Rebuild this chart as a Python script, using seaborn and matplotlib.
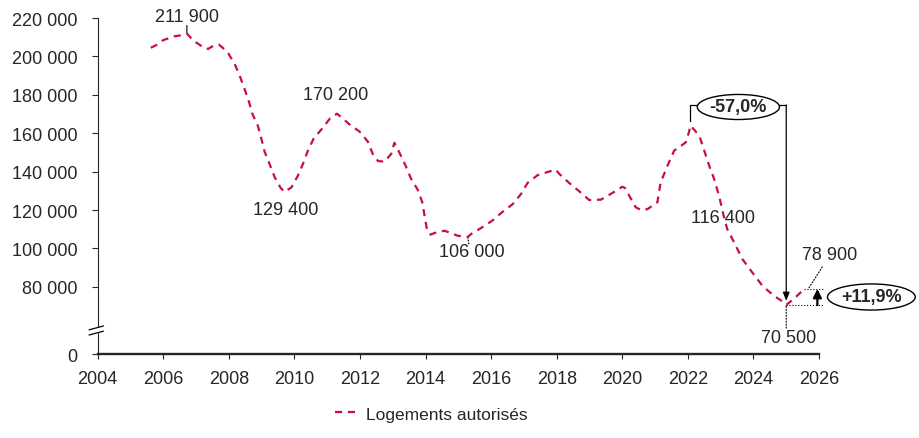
import numpy as np
import pandas as pd
import matplotlib
matplotlib.use("Agg")
import matplotlib.pyplot as plt
import matplotlib.transforms as mtransforms
import seaborn as sns

# 12-month cumulated authorised dwellings
years = [2005.62, 2005.80, 2006.00, 2006.35, 2006.55, 2006.72, 2006.85, 2007.00,
         2007.20, 2007.37, 2007.55, 2007.70, 2007.95, 2008.18, 2008.33, 2008.48,
         2008.61, 2008.72, 2008.89, 2008.99, 2009.09, 2009.25, 2009.40, 2009.58,
         2009.70, 2009.91, 2010.11, 2010.26, 2010.41, 2010.59, 2010.85, 2011.09,
         2011.30, 2011.45, 2011.68, 2011.99, 2012.24, 2012.39, 2012.55, 2012.75,
         2012.95, 2013.05, 2013.20, 2013.39, 2013.56, 2013.76, 2013.90, 2013.97,
         2014.04, 2014.15, 2014.35, 2014.58, 2014.80, 2014.98, 2015.29, 2015.39,
         2015.69, 2016.03, 2016.33, 2016.66, 2016.91, 2017.11, 2017.42, 2017.80,
         2017.97, 2018.08, 2018.38, 2018.69, 2018.99, 2019.35, 2019.68, 2020.00,
         2020.08, 2020.21, 2020.41, 2020.60, 2020.77, 2021.07, 2021.17, 2021.38,
         2021.58, 2021.80, 2021.94, 2022.04, 2022.08, 2022.35, 2022.50, 2022.65,
         2022.80, 2022.95, 2023.10, 2023.20, 2023.41, 2023.66, 2023.96, 2024.27,
         2024.62, 2024.92, 2025.00, 2025.28, 2025.55]
values = [204500, 206000, 208500, 210500, 211000, 211900, 209500, 207300,
          205000, 203900, 205800, 206100, 202500, 196000, 190000, 183000,
          176600, 170000, 163600, 157300, 150400, 143600, 137000, 131500,
          129400, 131800, 138000, 144000, 150900, 157300, 162500, 167800,
          170200, 168000, 164600, 160800, 155600, 149200, 145500, 145200,
          149200, 155000, 150000, 143100, 136200, 130600, 124000, 117000,
          110100, 107200, 108500, 109200, 107800, 106600, 106000, 107500,
          110600, 114400, 118800, 123100, 128300, 134100, 138200, 140200,
          141000, 138800, 134100, 129700, 125200, 125400, 128700, 132100,
          131500, 127500, 121400, 119800, 120500, 124000, 134400, 143100,
          150900, 153500, 155300, 161000, 164000, 158700, 150900, 143100,
          136200, 127500, 116400, 110100, 103200, 94500, 87600, 80600,
          75400, 72000, 70500, 74500, 78900]
series_name = "Logements autorisés"

ytick_values = [80000, 100000, 120000, 140000, 160000, 180000, 200000, 220000]
xtick_values = list(range(2004, 2027, 2))


def fmt(v):
    return f"{v:,}".replace(",", " ")


def pct(v):
    return f"{v:+.1f}%".replace(".", ",")


sns.set_style("ticks")
plt.rcParams["font.family"] = ["Liberation Sans", "DejaVu Sans"]

df = pd.DataFrame({"annee": years, "logements": values})
yr = np.array(years)
val = np.array(values)

fig = plt.figure(figsize=(9.19, 4.39), dpi=100)
ax = fig.add_axes([0.1063, 0.1913, 0.7849, 0.7654])

red = "#C8103E"
sns.lineplot(data=df, x="annee", y="logements", ax=ax, color=red,
             linewidth=1.6, legend=False, errorbar=None)
line = ax.lines[0]
line.set_dashes((3.2, 2.6))

# axis with a break between 0 and 80 000
floor = 45000
ax.set_xlim(2004, 2026)
ax.set_ylim(floor, 220000)
ax.set_yticks([floor] + ytick_values)
ax.set_yticklabels(["0"] + [fmt(v) for v in ytick_values])
ax.set_xticks(xtick_values)
ax.set_xticklabels([str(x) for x in xtick_values])
ax.set_xlabel("")
ax.set_ylabel("")
sns.despine(ax=ax)
ax.spines["left"].set_linewidth(0.8)
ax.spines["bottom"].set_linewidth(1.7)
ax.tick_params(axis="y", length=4.5, width=0.8, pad=10, labelsize=13)
ax.tick_params(axis="x", length=3.8, width=0.8, pad=8, labelsize=13)

bt = ax.get_yaxis_transform()
ax.add_patch(plt.Rectangle((-0.004, 56600), 0.008, 2200, transform=bt,
                           color="white", clip_on=False, zorder=5))
for yb in (58600, 55900):
    ax.plot([-0.012, 0.008], [yb - 1000, yb + 1000], transform=bt, color="black",
            lw=0.9, clip_on=False, zorder=6)


def window(lo, hi):
    return (yr >= lo) & (yr <= hi)


def idx_max(lo, hi):
    m = np.where(window(lo, hi))[0]
    return m[np.argmax(val[m])]


def idx_min(lo, hi):
    m = np.where(window(lo, hi))[0]
    return m[np.argmin(val[m])]


def leader(i, start, end, ls="-"):
    # short line near a data point, ends given as pixel offsets
    tr = mtransforms.offset_copy(ax.transData, fig, x=start[0], y=start[1], units="dots")
    ax.annotate("", (yr[i], val[i]), xycoords=tr,
                xytext=(end[0] - start[0], end[1] - start[1]), textcoords="offset pixels",
                arrowprops=dict(arrowstyle="-", lw=0.8, ls=ls, color="black",
                                shrinkA=0, shrinkB=0),
                annotation_clip=False)


i_a = idx_max(2005, 2008)
i_b = idx_min(2009, 2010.5)
i_c = idx_max(2010.5, 2012)
i_d = idx_min(2014.5, 2016)
i_peak = idx_max(2021.5, 2023)
i_low = idx_min(2024, 2026)
i_end = len(yr) - 1
i_mid = int(np.argmin(np.abs(yr - 2023.1)))

txt = dict(fontsize=13, ha="center", va="center", textcoords="offset pixels",
           annotation_clip=False)
ax.annotate(fmt(values[i_a]), (yr[i_a], val[i_a]), xytext=(0, 17), **txt)
ax.annotate(fmt(values[i_c]), (yr[i_c], val[i_c]), xytext=(-1, 19), **txt)
ax.annotate(fmt(values[i_b]), (yr[i_b], val[i_b]), xytext=(1, -18), **txt)
ax.annotate(fmt(values[i_d]), (yr[i_d], val[i_d]), xytext=(4, -15), **txt)
ax.annotate(fmt(values[i_mid]), (yr[i_mid], val[i_mid]), xytext=(-1, -1), **txt)
ax.annotate(fmt(values[i_end]), (yr[i_end], val[i_end]), xytext=(25, 34), **txt)
ax.annotate(fmt(values[i_low]), (yr[i_low], val[i_low]), xytext=(2, -32), **txt)

leader(i_a, (0, 1), (0, 8))
leader(i_d, (0, -1), (1, -7), ":")
leader(i_end, (4, 0), (18, 22), ":")
leader(i_low, (0, -1), (0, -23), ":")

# -57,0% bracket from the 2022 peak to the low point
x_p, x_l = yr[i_peak], yr[i_low]
top = val[i_peak] + 10700
ax.plot([x_p, x_p, x_l], [val[i_peak] + 2500, top, top], color="black", lw=0.9,
        clip_on=False, zorder=3)
ax.annotate("", (x_l, val[i_low] + 2200), xytext=(x_l, top),
            arrowprops=dict(arrowstyle="-|>,head_length=0.5,head_width=0.2",
                            lw=0.9, color="black", shrinkA=0, shrinkB=0),
            annotation_clip=False)
drop = (values[i_low] / values[i_peak] - 1) * 100
ax.annotate(pct(drop), ((x_p + x_l) / 2, top), xytext=(0, -2), fontweight="bold",
            bbox=dict(boxstyle="ellipse,pad=0.02", fc="white", ec="black", lw=1.0),
            zorder=7, **txt)

# +11,9% rebound marker
x_a = yr[i_end] + 0.4
ax.plot([x_l, x_a + 0.2], [val[i_low], val[i_low]], color="black", lw=0.8, ls=":",
        clip_on=False)
ax.plot([yr[i_end], x_a + 0.2], [val[i_end], val[i_end]], color="black", lw=0.8,
        ls=":", clip_on=False)
ax.annotate("", (x_a, val[i_end]), xytext=(x_a, val[i_low]),
            arrowprops=dict(arrowstyle="-|>,head_length=0.5,head_width=0.25",
                            lw=1.6, color="black", shrinkA=0, shrinkB=0),
            annotation_clip=False)
rise = (values[i_end] / values[i_low] - 1) * 100
ax.annotate(pct(rise), (x_a, (val[i_end] + val[i_low]) / 2), xytext=(54, 0),
            fontweight="bold",
            bbox=dict(boxstyle="ellipse,pad=0.04", fc="white", ec="black", lw=1.0),
            zorder=7, **txt)

ax.legend(handles=[line], labels=[series_name], loc="center",
          bbox_to_anchor=(0.4695, 0.0547), bbox_transform=fig.transFigure,
          frameon=False, handlelength=1.3, handletextpad=0.5, fontsize=12.5)

fig.savefig("out.png", dpi=100)
